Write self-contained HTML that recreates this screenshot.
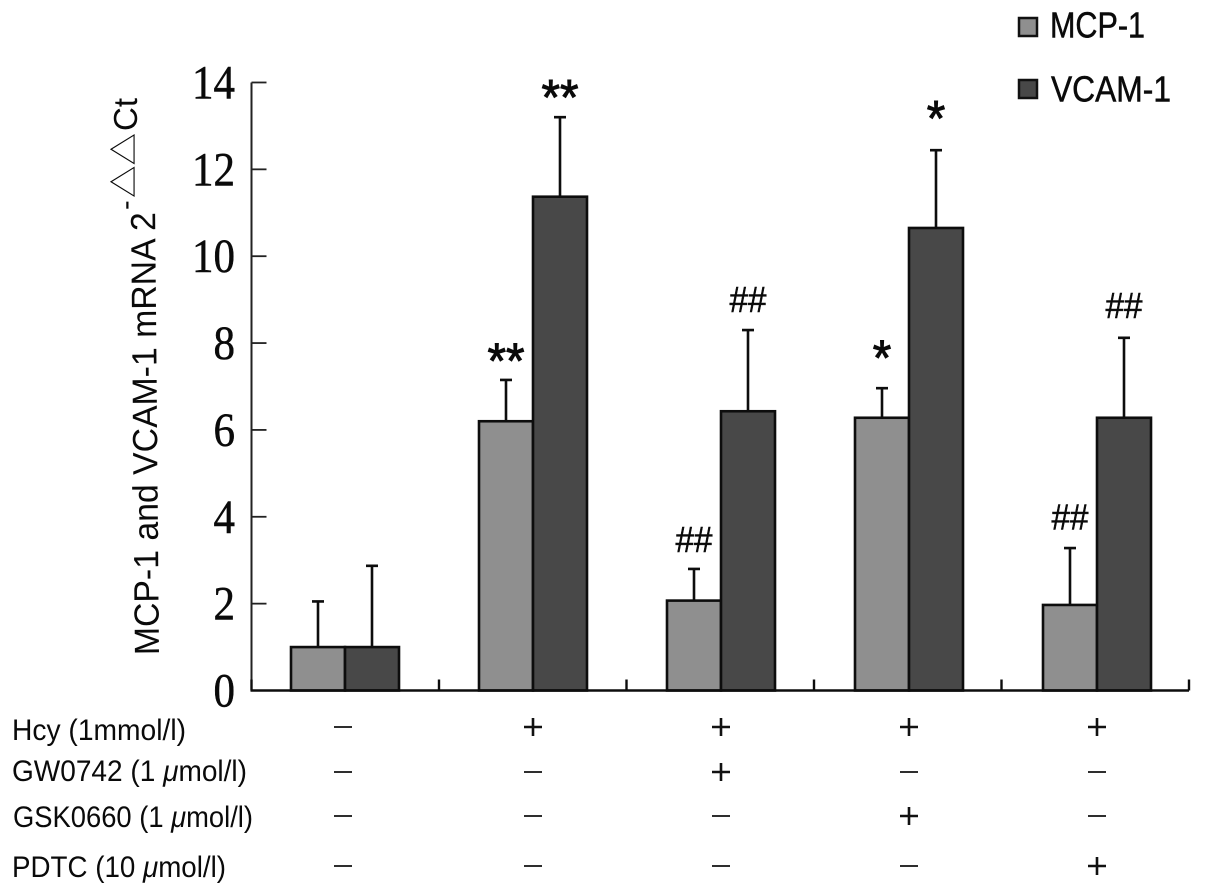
<!DOCTYPE html>
<html lang="en">
<head>
<meta charset="utf-8">
<title>MCP-1 and VCAM-1 mRNA expression</title>
<style>
  html, body { margin: 0; padding: 0; background: #fff; }
  #chart { display: block; width: 1205px; height: 896px; }
  .sans { font-family: "Liberation Sans", "Noto Sans CJK SC", sans-serif; fill: #0a0a0a; }
  .serif { font-family: "Liberation Serif", serif; fill: #0a0a0a; stroke: #0a0a0a; stroke-width: 0.5; }
  .heavy { stroke: #0a0a0a; stroke-width: 0.5; }
  .heavier { stroke: #0a0a0a; stroke-width: 1; }
</style>
</head>
<body>
<svg id="chart" xmlns="http://www.w3.org/2000/svg" width="1205" height="896" viewBox="0 0 1205 896">
  <rect x="0" y="0" width="1205" height="896" fill="#ffffff"></rect>

  <g>
    <text class="sans" transform="translate(159 655) rotate(-90.5)" font-size="35" textLength="443" lengthAdjust="spacingAndGlyphs">MCP-1 and VCAM-1 mRNA 2</text>
    <text class="sans" transform="translate(135 210) rotate(-90)" font-size="29">-</text>
    <text class="sans" transform="translate(135 198) rotate(-90)" font-size="30" textLength="65" lengthAdjust="spacingAndGlyphs">△△</text>
    <text class="sans" transform="translate(137 131) rotate(-90)" font-size="33" textLength="33" lengthAdjust="spacingAndGlyphs">Ct</text>
  </g>

  <g>
    <rect x="1019" y="18" width="18" height="18" fill="#8f8f8f" stroke="#111" stroke-width="2.5"></rect>
    <text class="sans heavy" x="1050" y="37.5" font-size="36" textLength="95" lengthAdjust="spacingAndGlyphs">MCP-1</text>
    <rect x="1019" y="80" width="18" height="18" fill="#484848" stroke="#111" stroke-width="2.5"></rect>
    <text class="sans heavy" x="1051" y="101.5" font-size="36" textLength="120" lengthAdjust="spacingAndGlyphs">VCAM-1</text>
  </g>

  <g>
    <text class="sans" x="12" y="740" font-size="30" textLength="174" lengthAdjust="spacingAndGlyphs">Hcy (1mmol/l)</text>
    <text class="sans" x="12" y="781" font-size="30" textLength="235" lengthAdjust="spacingAndGlyphs">GW0742 (1 <tspan font-style="italic">μ</tspan>mol/l)</text>
    <text class="sans" x="13" y="827" font-size="30" textLength="240" lengthAdjust="spacingAndGlyphs">GSK0660 (1 <tspan font-style="italic">μ</tspan>mol/l)</text>
    <text class="sans" x="12" y="877" font-size="30" textLength="214" lengthAdjust="spacingAndGlyphs">PDTC (10 <tspan font-style="italic">μ</tspan>mol/l)</text>
  </g>

  <g id="marks"></g>
</svg>

<script>
const categories = ["Control", "Hcy", "Hcy+GW0742", "Hcy+GSK0660", "Hcy+PDTC"];
const mcp1Values = [1.0, 6.2, 2.07, 6.28, 1.97];
const vcam1Values = [1.0, 11.37, 6.43, 10.65, 6.28];
const mcp1ErrorTops = [2.05, 7.15, 2.8, 6.96, 3.28];
const vcam1ErrorTops = [2.87, 13.2, 8.3, 12.44, 8.12];
const yTickLabels = [0, 2, 4, 6, 8, 10, 12, 14];
const mcp1Marks = ["", "**", "##", "*", "##"];
const vcam1Marks = ["", "**", "##", "*", "##"];
const mcp1MarkLevels = [0, 7.82, 3.47, 7.89, 3.98];
const vcam1MarkLevels = [0, 13.88, 8.99, 13.4, 8.85];
const treatmentHcy = ["-", "+", "+", "+", "+"];
const treatmentGw0742 = ["-", "-", "+", "-", "-"];
const treatmentGsk0660 = ["-", "-", "-", "+", "-"];
const treatmentPdtc = ["-", "-", "-", "-", "+"];

const NS = "http://www.w3.org/2000/svg";
const root = document.getElementById("marks");
const axisLeft = 251.5;
const axisRight = 1189;
const axisBottom = 690.5;
const yUnit = 43.43;
const barWidth = 54;
const tickStep = (axisRight - axisLeft) / categories.length;
const groupStep = 188;

function yScale(v) { return axisBottom - v * yUnit; }
function xCenter(i) { return 345 + groupStep * i; }

function make(tag, attrs, parent) {
  const el = document.createElementNS(NS, tag);
  Object.keys(attrs).forEach(function (k) { el.setAttribute(k, attrs[k]); });
  (parent || root).appendChild(el);
  return el;
}

// Bars and error bars
function drawSeries(values, errorTops, fill, side, seriesName) {
  values.forEach(function (v, i) {
    const left = side < 0 ? xCenter(i) - barWidth : xCenter(i);
    const mid = left + barWidth / 2;
    const whisker = make("path", {
      d: "M" + mid + " " + yScale(v) + "V" + yScale(errorTops[i]) + "M" + (mid - 6) + " " + yScale(errorTops[i]) + "H" + (mid + 6),
      fill: "none", stroke: "#0d0d0d", "stroke-width": 2.6
    });
    
    
    const bar = make("rect", {
      x: left, y: yScale(v), width: barWidth, height: axisBottom - yScale(v),
      fill: fill, stroke: "#0d0d0d", "stroke-width": 2.6
    });
    
    
  });
}
drawSeries(mcp1Values, mcp1ErrorTops, "#8f8f8f", -1, "mcp-1");
drawSeries(vcam1Values, vcam1ErrorTops, "#484848", 1, "vcam-1");

// Y axis
const yAxisLine = make("line", { x1: axisLeft, x2: axisLeft, y1: yScale(14), y2: axisBottom, stroke: "#222", "stroke-width": 2 });


yTickLabels.forEach(function (t) {
  const tick = make("line", { x1: axisLeft, x2: axisLeft + 15, y1: yScale(t), y2: yScale(t), stroke: "#222", "stroke-width": 1.8 });
  
  
  const label = make("text", {
    class: "serif", x: 235, y: yScale(t) + 16, "text-anchor": "end", "font-size": 48,
    textLength: String(t).length * 21.5, lengthAdjust: "spacingAndGlyphs"
  });
  label.textContent = t;
  
  
});

// X axis
const xAxisLine = make("line", { x1: axisLeft - 1, x2: axisRight, y1: axisBottom, y2: axisBottom, stroke: "#0d0d0d", "stroke-width": 2.6 });


for (let i = 0; i <= categories.length; i++) {
  const tickX = axisLeft + tickStep * i;
  const xTick = make("line", { x1: tickX, x2: tickX, y1: axisBottom - 11, y2: axisBottom, stroke: "#0d0d0d", "stroke-width": 2.4 });
  
  
}

// Significance marks
function drawMarks(marks, levels, side, seriesName) {
  marks.forEach(function (m, i) {
    if (!m) return;
    const star = m.charAt(0) === "*";
    const mark = make("text", {
      class: star ? "sans heavier" : "sans heavy",
      x: xCenter(i) + side * barWidth / 2,
      y: yScale(levels[i]) + (star ? 27 : 12),
      "text-anchor": "middle",
      "font-size": star ? 50 : 36,
      textLength: m.length * 18.5,
      lengthAdjust: "spacingAndGlyphs"
    });
    mark.textContent = m;
    
    
  });
}
drawMarks(mcp1Marks, mcp1MarkLevels, -1, "mcp-1");
drawMarks(vcam1Marks, vcam1MarkLevels, 1, "vcam-1");

// Treatment +/- table
function drawTreatmentRow(symbols, rowY, rowName) {
  symbols.forEach(function (s, i) {
    const cx = xCenter(i) - (i === 0 ? 2 : 0);
    const d = s === "+"
      ? "M" + (cx - 9) + " " + rowY + "H" + (cx + 9) + "M" + cx + " " + (rowY - 9) + "V" + (rowY + 9)
      : "M" + (cx - 9) + " " + rowY + "H" + (cx + 9);
    const sign = make("path", { d: d, fill: "none", stroke: "#111", "stroke-width": s === "+" ? 2.6 : 1.8 });
    
    
  });
}
drawTreatmentRow(treatmentHcy, 727, "hcy");
drawTreatmentRow(treatmentGw0742, 772, "gw0742");
drawTreatmentRow(treatmentGsk0660, 816, "gsk0660");
drawTreatmentRow(treatmentPdtc, 866, "pdtc");
</script>
</body>
</html>
